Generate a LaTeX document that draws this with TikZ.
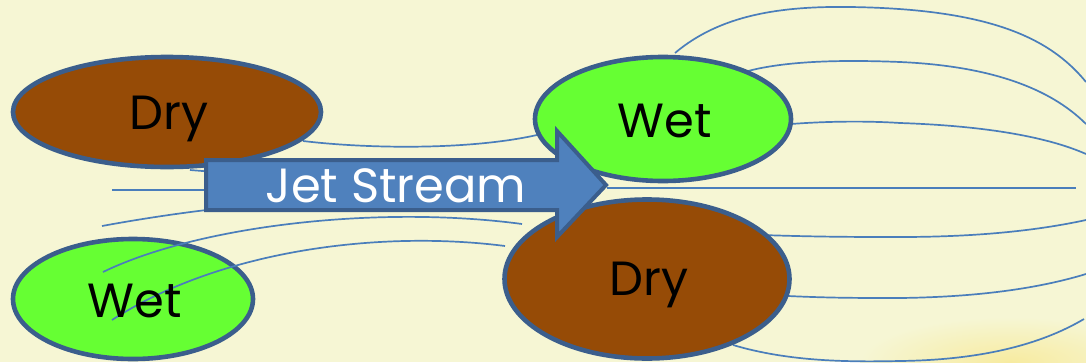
\documentclass[tikz,border=0pt]{standalone}
\usepackage{fontspec}
\setmainfont{Poppins}
\usetikzlibrary{shapes.geometric}
\definecolor{bgcol}{HTML}{F6F6D4}
\definecolor{drycol}{HTML}{964B06}
\definecolor{wetcol}{HTML}{66FF33}
\definecolor{edgecol}{HTML}{3B5E8C}
\definecolor{streamcol}{HTML}{4A7EBB}
\definecolor{arrowfill}{HTML}{4F81BD}
\definecolor{glow}{HTML}{F7EBA0}
\tikzset{
  blob/.style={ellipse, draw=edgecol, line width=4.6pt, inner sep=0pt},
  drybox/.style={blob, fill=drycol},
  wetbox/.style={blob, fill=wetcol},
  stream/.style={draw=streamcol, line width=1.7pt},
  lbl/.style={font=\fontsize{48}{52}\selectfont, anchor=base, inner sep=0pt, text=black},
}
\begin{document}
\begin{tikzpicture}[x=1pt,y=-1pt]
\useasboundingbox (0,0) rectangle (1086,362);
\fill[bgcol] (0,0) rectangle (1086,362);
\begin{scope}
\clip (0,0) rectangle (1086,362);
\shade[inner color=glow, outer color=bgcol] (1010,362) ellipse (150 and 45);
\end{scope}
% bottom-left wet
\node[wetbox, minimum width=240pt, minimum height=120pt] (wetA) at (133,299) {};
% streamlines on left
\draw[stream] (303,141) .. controls (370,149) and (470,150) .. (537,135);
\draw[stream] (190,170) -- (215,172);
\draw[stream] (112,190) -- (215,190);
\draw[stream] (102,226) .. controls (140,219) and (180,213) .. (215,209);
\draw[stream] (103,272) .. controls (200,225) and (380,205) .. (522,224);
\draw[stream] (112,320) .. controls (220,250) and (380,230) .. (505,246);
% streamlines on right
\draw[stream] (675,53) .. controls (720,15) and (780,6) .. (850,7) .. controls (990,9) and (1050,38) .. (1086,82);
\draw[stream] (748,71) .. controls (790,60) and (850,60) .. (900,62) .. controls (990,66) and (1050,88) .. (1086,124);
\draw[stream] (791,124) .. controls (830,121) and (870,121) .. (900,123) .. controls (990,126) and (1050,138) .. (1086,154);
\draw[stream] (607,188) -- (1076,188);
\draw[stream] (762,235) .. controls (820,237) and (860,237) .. (900,237) .. controls (980,237) and (1040,230) .. (1086,220);
\draw[stream] (788,296) .. controls (830,298) and (860,298) .. (900,298) .. controls (980,297) and (1040,288) .. (1086,274);
\draw[stream] (733,345) .. controls (790,362) and (850,362) .. (900,361) .. controls (980,360) and (1040,345) .. (1084,319);
% other ellipses
\node[drybox, minimum width=308pt, minimum height=110pt] (dryA) at (167,112) {};
\node[wetbox, minimum width=256pt, minimum height=124pt] (wetB) at (663,119) {};
\node[drybox, minimum width=285pt, minimum height=159pt] (dryB) at (647,279) {};
% labels
\node[lbl] (dryAt) at (169,129) {Dry};
\node[lbl] (wetAt) at (135,317) {Wet};
\node[lbl] (wetBt) at (665,137) {Wet};
\node[lbl] (dryBt) at (649,295) {Dry};
% jet stream arrow
\draw[fill=arrowfill, draw=edgecol, line width=4pt, line join=miter]
  (206,160) -- (557,160) -- (557,131) -- (606,185) -- (557,237) -- (557,210) -- (206,210) -- cycle;
\node[lbl, text=white] (jet) at (396,202) {Jet Stream};
\end{tikzpicture}
\end{document}
